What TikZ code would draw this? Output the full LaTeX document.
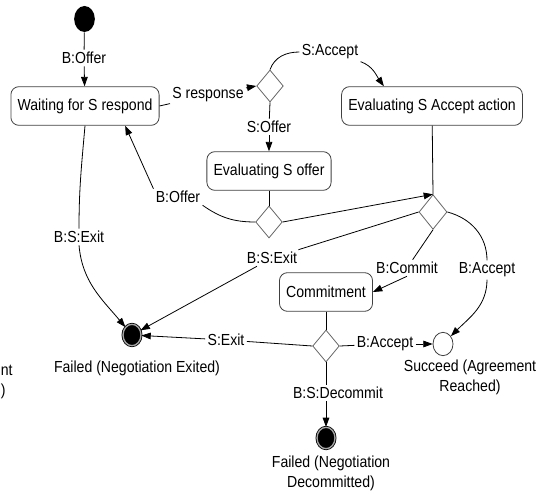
\documentclass[tikz,border=0pt]{standalone}
\usepackage{fontspec}
\setmainfont{Liberation Sans}[FakeStretch=0.88]
\usetikzlibrary{shapes.geometric,arrows.meta}

\begin{document}
\begin{tikzpicture}[x=0.75pt,y=-0.75pt,line width=0.6pt,
		font=\fontsize{12}{15}\selectfont,
		state/.style={draw=black!75,rounded corners=6pt,minimum height=29pt,inner xsep=5pt},
		choice/.style={draw=black!60,diamond,minimum width=20pt,minimum height=24pt,inner sep=0pt},
		lbl/.style={inner sep=1.5pt},
		final/.style={ellipse,fill=black,draw=black,double=black!35,double distance=1pt,minimum width=13.5pt,minimum height=16pt,inner sep=0pt},
		arr/.style={-{Triangle[length=7pt,width=5pt]}}]
		\useasboundingbox (0,0) rectangle (541,498);
		% states
		\node[ellipse,fill=black,inner sep=0pt,minimum width=15.5pt,minimum height=19.5pt] (start) at (84.5,19) {};
		\node[state] (wait) at (85,106) {Waiting for S respond};
		\node[state] (evacc) at (432,106) {Evaluating S Accept action};
		\node[state] (evoff) at (269,171) {Evaluating S offer};
		\node[state] (commit) at (326,292) {Commitment};
		\node[choice] (d1) at (270,86) {};
		\node[choice] (d2) at (269,222) {};
		\node[choice,minimum width=21pt,minimum height=26pt] (d3) at (433,212) {};
		\node[choice] (d4) at (326,346) {};
		\node[final] (fail1) at (132,335) {};
		\node[final] (fail2) at (326,438) {};
		\node[draw=black!75,ellipse,inner sep=0pt,minimum width=15pt,minimum height=17.5pt] (succ) at (443,344) {};
		\node[align=center] (tfail1) at (137,368) {Failed (Negotiation Exited)};
		\node[align=center] (tsucc) at (470,377) {Succeed (Agreement\\Reached)};
		\node[align=center] (tfail2) at (331,473) {Failed (Negotiation\\Decommitted)};
		\node[anchor=base west,inner sep=0pt] (frag1) at (0.5,375) {nt};
		\node[anchor=base west,inner sep=0pt] (frag2) at (0.5,395) {)};
		% labels
		\node[lbl] (lboffer) at (84,58) {B:Offer};
		\node[lbl] (lsresp) at (208,95) {S response};
		\node[lbl] (lsacc) at (330,52) {S:Accept};
		\node[lbl] (lsoff) at (269,127) {S:Offer};
		\node[lbl] (lboff2) at (178,197) {B:Offer};
		\node[lbl] (lbsexit1) at (79,237) {B:S:Exit};
		\node[lbl] (lbsexit2) at (272,258) {B:S:Exit};
		\node[lbl] (lbcommit) at (407,268) {B:Commit};
		\node[lbl] (lbacc1) at (487,270) {B:Accept};
		\node[lbl] (lbacc2) at (385,344) {B:Accept};
		\node[lbl] (lsexit) at (226,340) {S:Exit};
		\node[lbl] (lbsdec) at (338,393) {B:S:Decommit};
		% transitions
		\draw (start) -- (lboffer);
		\draw[arr] (lboffer) -- (wait);
		\draw (wait.east) -- (lsresp);
		\draw[arr] (lsresp) -- (d1.west);
		\draw (d1.north) to[out=70,in=180] (lsacc.west);
		\draw[arr] (lsacc.south east) to[out=-20,in=125] ([xshift=32pt]evacc.north west);
		\draw (d1.south) -- (lsoff);
		\draw[arr] (lsoff) -- (evoff);
		\draw (evoff) -- (d2);
		\draw (d2.west) to[out=180,in=-35] (lboff2.south east);
		\draw[arr] (lboff2.north west) -- ([xshift=86pt]wait.south west);
		\draw[arr] (d2.east) -- (d3.north);
		\draw (evacc) -- (d3.north);
		\draw (d3.west) -- (lbsexit2);
		\draw[arr] (lbsexit2) -- (fail1);
		\draw (wait.south) to[out=-95,in=90] (lbsexit1.north);
		\draw[arr] (lbsexit1.south) to[out=-85,in=130] (fail1);
		\draw (d3.south) -- (lbcommit);
		\draw[arr] (lbcommit.south) -- (commit.east);
		\draw (d3.east) to[out=-15,in=90] (lbacc1.north);
		\draw[arr] (lbacc1.south) to[out=-90,in=45] (succ);
		\draw (commit) -- (d4);
		\draw (d4.east) -- (lbacc2);
		\draw[arr] (lbacc2) -- (succ);
		\draw (d4.west) -- (lsexit);
		\draw[arr] (lsexit) -- (fail1);
		\draw (d4.south) -- (d4.south |- lbsdec.north);
		\draw[arr] (d4.south |- lbsdec.south) -- (fail2);
	\end{tikzpicture}
\end{document}
